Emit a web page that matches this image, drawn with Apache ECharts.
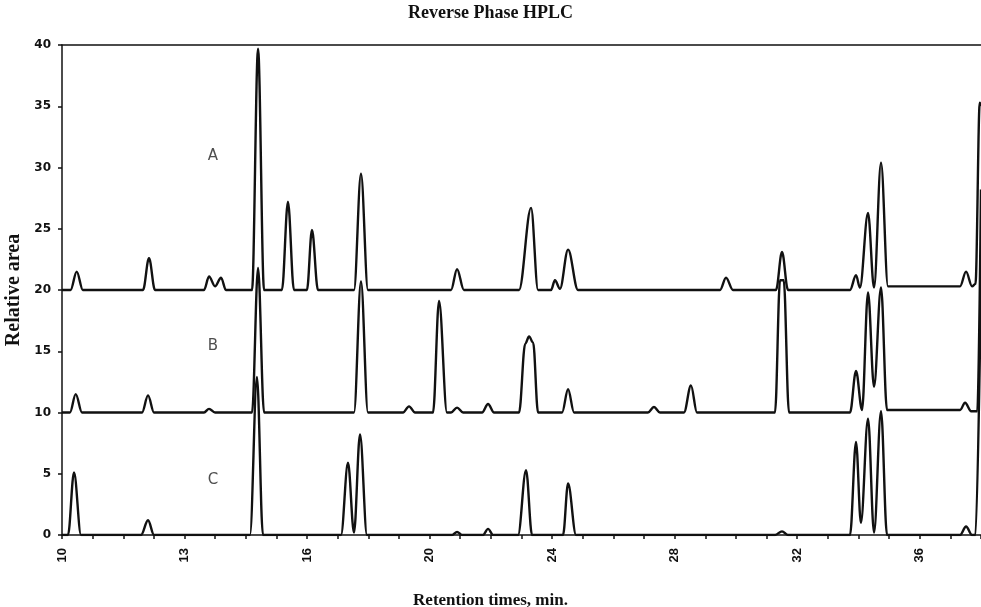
<!DOCTYPE html>
<html>
<head>
<meta charset="utf-8">
<title>Reverse Phase HPLC</title>
<script src="https://cdn.jsdelivr.net/npm/echarts@6/dist/echarts.min.js"></script>
<style>
  html, body { margin: 0; padding: 0; background: #fff; }
  #chart { width: 981px; height: 607px; }
</style>
</head>
<body>
<div id="chart"></div>
<script>
// tick labels of the retention axis (one label per major tick, evenly spaced on the paper)
var xTickLabels = ['10', '13', '16', '20', '24', '28', '32', '36'];

// x positions are in major-tick units (0 = "10", 1 = "13", ...)
var traceA_x = [0, 0.07, 0.12, 0.17, 0.661, 0.710, 0.759, 1.159, 1.200, 1.249, 1.298, 1.338,
  1.551, 1.600, 1.649, 1.795, 1.844, 1.893, 1.999, 2.040, 2.089, 2.383, 2.440, 2.497,
  3.175, 3.224, 3.280, 3.730, 3.828, 3.885, 3.991, 4.023, 4.064, 4.130, 4.211,
  5.370, 5.419, 5.476, 5.827, 5.876, 5.925, 6.431, 6.480, 6.512, 6.578, 6.627, 6.684, 6.741,
  7.329, 7.378, 7.427, 7.455, 7.49, 7.5];
var traceA_y = [20, 20, 21.5, 20, 20, 22.6, 20, 20, 21.1, 20.3, 21.0, 20,
  20, 39.7, 20, 20, 27.2, 20, 20, 24.9, 20, 20, 29.5, 20,
  20, 21.7, 20, 20, 26.7, 20, 20, 20.8, 20.1, 23.3, 20,
  20, 21.0, 20, 20, 23.1, 20, 20, 21.2, 20.2, 26.3, 20.2, 30.4, 20.3,
  20.3, 21.5, 20.3, 20.5, 35.3, 35];

var traceB_x = [0, 0.065, 0.112, 0.163, 0.653, 0.702, 0.751, 1.159, 1.200, 1.249,
  1.551, 1.600, 1.649, 2.383, 2.440, 2.497, 2.783, 2.832, 2.881, 3.028, 3.077, 3.142,
  3.175, 3.224, 3.273, 3.428, 3.477, 3.526, 3.730, 3.780, 3.812, 3.845, 3.885,
  4.081, 4.130, 4.179, 4.782, 4.831, 4.880, 5.076, 5.133, 5.182, 5.819, 5.860, 5.890, 5.933,
  6.431, 6.480, 6.529, 6.578, 6.627, 6.684, 6.733, 7.329, 7.370, 7.420, 7.470, 7.5];
var traceB_y = [10, 10, 11.5, 10, 10, 11.4, 10, 10, 10.3, 10,
  10, 21.8, 10, 10, 20.7, 10, 10, 10.5, 10, 10, 19.1, 10,
  10, 10.4, 10, 10, 10.7, 10, 10, 15.6, 16.2, 15.7, 10,
  10, 11.9, 10, 10, 10.45, 10, 10, 12.2, 10, 10, 20.8, 20.8, 10,
  10, 13.4, 10.2, 19.8, 12.1, 20.2, 10.2, 10.2, 10.8, 10.1, 10.1, 28.2];

var traceC_x = [0, 0.049, 0.098, 0.155, 0.645, 0.702, 0.751, 1.534, 1.591, 1.640,
  2.277, 2.334, 2.383, 2.432, 2.489, 3.183, 3.224, 3.265, 3.436, 3.477, 3.518,
  3.722, 3.787, 3.836, 4.089, 4.130, 4.195, 5.819, 5.876, 5.925,
  6.431, 6.480, 6.520, 6.578, 6.627, 6.684, 6.733, 7.329, 7.378, 7.427, 7.455, 7.5];
var traceC_y = [0, 0, 5.1, 0, 0, 1.2, 0, 0, 12.9, 0,
  0, 5.9, 0.2, 8.2, 0, 0, 0.25, 0, 0, 0.5, 0,
  0, 5.3, 0, 0, 4.2, 0, 0, 0.3, 0,
  0, 7.6, 1.0, 9.5, 0.2, 10.1, 0, 0, 0.7, 0, 0, 21];

// trace letters and where they sit
var traceNames = ['A', 'B', 'C'];
var nameX = [1.232, 1.232, 1.232];
var nameY = [30.9, 15.4, 4.5];

function pairs(xs, ys) {
  return xs.map(function (x, i) { return [x, ys[i]]; });
}

var myChart = echarts.init(document.getElementById('chart'));

// all traces: thick black pen, rounded peaks (horizontal tangents at every vertex)
function trace(name, xs, ys) {
  return {
    name: name,
    type: 'line',
    data: pairs(xs, ys),
    showSymbol: false,
    smooth: 0.35,
    smoothMonotone: 'x',
    lineStyle: { color: '#111', width: 2.4 }
  };
}

var axisColor = { color: '#111', width: 1.5 };

var option = {
  animation: false,
  backgroundColor: '#fff',
  title: {
    text: 'Reverse Phase HPLC',
    left: 'center',
    top: -1,
    textStyle: { fontFamily: 'Liberation Serif', fontWeight: 'bold', fontSize: 18, color: '#111' }
  },
  grid: { left: 62, right: 0, top: 45, bottom: 72, outerBoundsMode: 'none' },
  xAxis: [{
    type: 'value',
    min: 0,
    max: 7.5,
    interval: 1,
    name: 'Retention times, min.',
    nameLocation: 'middle',
    nameGap: 57,
    nameTextStyle: {
      fontFamily: 'Liberation Serif', fontWeight: 'bold', fontSize: 17, color: '#111',
      padding: [0, 62, 0, 0]
    },
    axisLine: { onZero: false, lineStyle: axisColor },
    axisTick: { length: 4, lineStyle: axisColor },
    minorTick: { show: true, splitNumber: 4, length: 4, lineStyle: axisColor },
    splitLine: { show: false },
    axisLabel: {
      rotate: 90,
      margin: 13,
      showMaxLabel: false,
      fontFamily: 'Liberation Sans',
      fontWeight: 'bold',
      fontSize: 13,
      color: '#111',
      formatter: function (v) { return xTickLabels[v] !== undefined ? xTickLabels[v] : ''; }
    }
  }, {
    type: 'value',
    position: 'top',
    min: 0,
    max: 7.5,
    axisLine: { show: true, onZero: false, lineStyle: axisColor },
    axisTick: { show: false },
    axisLabel: { show: false },
    splitLine: { show: false }
  }],
  yAxis: {
    type: 'value',
    min: 0,
    max: 40,
    interval: 5,
    name: 'Relative area',
    nameLocation: 'middle',
    nameGap: 33,
    nameTextStyle: { fontFamily: 'Liberation Serif', fontWeight: 'bold', fontSize: 20, color: '#111' },
    axisLine: { show: true, lineStyle: axisColor },
    axisTick: { show: true, length: 4, lineStyle: axisColor },
    splitLine: { show: false },
    axisLabel: {
      margin: 11,
      fontFamily: 'DejaVu Sans',
      fontWeight: 'bold',
      fontSize: 12,
      color: '#111'
    }
  },
  series: [
    trace('A', traceA_x, traceA_y),
    trace('B', traceB_x, traceB_y),
    trace('C', traceC_x, traceC_y),
    {
      type: 'scatter',
      symbolSize: 0,
      data: traceNames.map(function (n, i) { return { name: n, value: [nameX[i], nameY[i]] }; }),
      label: {
        show: true,
        position: 'inside',
        formatter: '{b}',
        fontFamily: 'DejaVu Sans',
        fontSize: 15,
        color: '#222'
      }
    }
  ]
};

myChart.setOption(option);
</script>
</body>
</html>
